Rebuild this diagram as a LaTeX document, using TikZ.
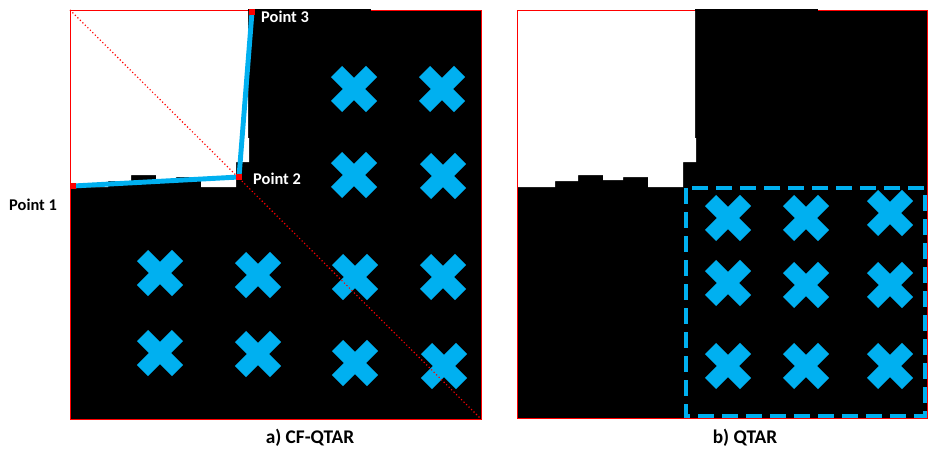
\documentclass[tikz,border=0pt]{standalone}
\usepackage{fontspec}
\setmainfont{Carlito}
\usetikzlibrary{positioning}

\definecolor{markblue}{HTML}{00B0F0}

\tikzset{
  panelframe/.style={draw=red, line width=0.8pt},
  ptmark/.style={fill=red, inner sep=0pt, minimum size=0.18cm},
  ptlabel/.style={font=\fontsize{14}{16}\selectfont\bfseries, inner sep=0pt},
  caption/.style={font=\fontsize{16.5}{18}\selectfont\bfseries, inner sep=0pt, anchor=base},
  xmark/.pic={
    \fill[markblue, rotate=45] (7.8,7.8) -- (7.8,24.75) -- (-7.8,24.75) -- (-7.8,7.8)
      -- (-24.75,7.8) -- (-24.75,-7.8) -- (-7.8,-7.8) -- (-7.8,-24.75)
      -- (7.8,-24.75) -- (7.8,-7.8) -- (24.75,-7.8) -- (24.75,7.8) -- cycle;
  }
}

\begin{document}
\begin{tikzpicture}[x=0.03cm, y=-0.03cm]
    \useasboundingbox (0,0) rectangle (928,448);

    % a) corrected panel
    \coordinate (a-nw) at (70,10);
    \coordinate (a-se) at (481,419);
    \fill[black] (a-nw) rectangle (a-se);
    \fill[white] (70,10) -- (248,10) -- (248,138) -- (249,138) -- (249,162) -- (236,162)
      -- (236,187) -- (201,187) -- (201,177) -- (176,177) -- (176,180) -- (156,180)
      -- (156,175) -- (131,175) -- (131,181) -- (108,181) -- (108,187) -- (70,187) -- cycle;
    \draw[panelframe] (a-nw) rectangle (a-se);
    \fill[black] (248,9) rectangle (371,11);
    \foreach \cx/\cy in {354/89, 442/89, 354/175, 443/176, 160/273, 258/275,
                         355/277, 443/277, 160/353, 258/354, 355/363, 444/366}
        \pic at (\cx,\cy) {xmark};
    \draw[red, dotted, line width=1pt] (a-nw) -- (a-se);

    % corner points and fitted edges
    \coordinate (p1) at (73,186);
    \coordinate (p2) at (239,177);
    \coordinate (p3) at (252,12);
    \draw[markblue, line width=4.2pt] (p1) -- (p2) -- (p3);
    \node[ptmark] (m1) at (p1) {};
    \node[ptmark] (m2) at (p2) {};
    \node[ptmark] (m3) at (p3) {};
    \node[ptlabel, text=white, anchor=base west] (l3) at (261,23) {Point 3};
    \node[ptlabel, text=white, anchor=base west] (l2) at (253,184) {Point 2};
    \node[ptlabel, anchor=base west] (l1) at (9,210) {Point 1};
    \node[caption] (ca) at (310,443) {a) CF-QTAR};

    % b) plain panel
    \coordinate (b-nw) at (517,10);
    \coordinate (b-se) at (927,418);
    \fill[black] (b-nw) rectangle (b-se);
    \fill[white] (517,10) -- (695,10) -- (695,138) -- (696,138) -- (696,162) -- (683,162)
      -- (683,187) -- (648,187) -- (648,177) -- (623,177) -- (623,180) -- (603,180)
      -- (603,175) -- (578,175) -- (578,181) -- (555,181) -- (555,187) -- (517,187) -- cycle;
    \draw[panelframe] (b-nw) rectangle (b-se);
    \fill[black] (695,9) rectangle (818,11);
    \foreach \cx/\cy in {728/218, 806/218, 890/213, 728/283, 806/285, 890/285,
                         728/366, 806/366, 890/366}
        \pic at (\cx,\cy) {xmark};
    \coordinate (q-nw) at (686,188);
    \coordinate (q-se) at (925,416);
    \draw[markblue, line width=3.4pt, dash pattern=on 0.48cm off 0.24cm] (q-nw) rectangle (q-se);
    \node[caption] (cb) at (745,443) {b) QTAR};
\end{tikzpicture}
\end{document}
